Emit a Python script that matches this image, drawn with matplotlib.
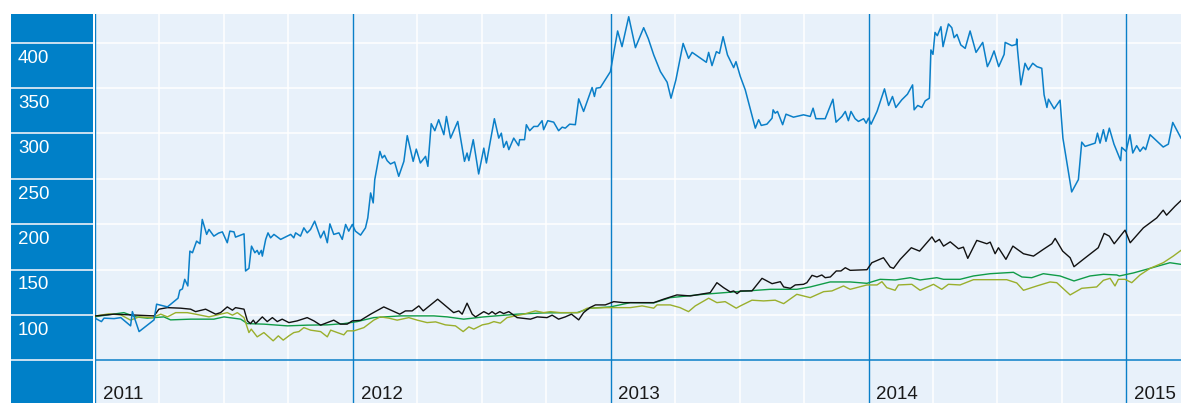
import numpy as np
import matplotlib
matplotlib.use("Agg")
import matplotlib.pyplot as plt

plt.rcParams['font.family'] = ['Liberation Sans', 'DejaVu Sans']

# values; x is given in decimal years
blue_year = [2011.003, 2011.025, 2011.035, 2011.074, 2011.100, 2011.138, 2011.145, 2011.171,
             2011.229, 2011.239, 2011.281, 2011.322, 2011.329, 2011.339, 2011.348, 2011.360,
             2011.368, 2011.378, 2011.394, 2011.407, 2011.416, 2011.433, 2011.442, 2011.461,
             2011.479, 2011.494, 2011.513, 2011.523, 2011.539, 2011.545, 2011.578, 2011.584,
             2011.597, 2011.607, 2011.620, 2011.629, 2011.636, 2011.645, 2011.649, 2011.662,
             2011.671, 2011.681, 2011.694, 2011.720, 2011.759, 2011.771, 2011.778, 2011.797,
             2011.810, 2011.823, 2011.836, 2011.852, 2011.875, 2011.888, 2011.901, 2011.911,
             2011.926, 2011.946, 2011.959, 2011.972, 2011.984, 2011.998, 2012.010, 2012.030,
             2012.049, 2012.058, 2012.069, 2012.079, 2012.085, 2012.105, 2012.114, 2012.123,
             2012.133, 2012.146, 2012.162, 2012.178, 2012.198, 2012.211, 2012.234, 2012.246,
             2012.262, 2012.282, 2012.291, 2012.304, 2012.318, 2012.333, 2012.353, 2012.363,
             2012.379, 2012.407, 2012.433, 2012.443, 2012.450, 2012.467, 2012.488, 2012.508,
             2012.518, 2012.549, 2012.566, 2012.576, 2012.585, 2012.596, 2012.605, 2012.624,
             2012.643, 2012.647, 2012.666, 2012.673, 2012.686, 2012.702, 2012.717, 2012.734,
             2012.740, 2012.756, 2012.779, 2012.798, 2012.812, 2012.824, 2012.841, 2012.863,
             2012.876, 2012.895, 2012.928, 2012.937, 2012.944, 2012.960, 2012.999, 2013.027,
             2013.044, 2013.070, 2013.096, 2013.128, 2013.146, 2013.167, 2013.193, 2013.219,
             2013.234, 2013.253, 2013.281, 2013.302, 2013.316, 2013.371, 2013.380, 2013.393,
             2013.410, 2013.422, 2013.436, 2013.453, 2013.477, 2013.486, 2013.503, 2013.522,
             2013.561, 2013.574, 2013.584, 2013.606, 2013.626, 2013.630, 2013.638, 2013.647,
             2013.667, 2013.680, 2013.709, 2013.748, 2013.774, 2013.785, 2013.796, 2013.832,
             2013.862, 2013.874, 2013.897, 2013.910, 2013.922, 2013.932, 2013.948, 2013.961,
             2013.981, 2013.991, 2014.000, 2014.010, 2014.033, 2014.062, 2014.078, 2014.093,
             2014.106, 2014.129, 2014.151, 2014.171, 2014.177, 2014.191, 2014.207, 2014.220,
             2014.236, 2014.242, 2014.250, 2014.258, 2014.267, 2014.281, 2014.289, 2014.310,
             2014.323, 2014.332, 2014.343, 2014.358, 2014.375, 2014.394, 2014.417, 2014.443,
             2014.461, 2014.472, 2014.487, 2014.505, 2014.526, 2014.530, 2014.556, 2014.573,
             2014.575, 2014.578, 2014.591, 2014.607, 2014.620, 2014.637, 2014.653, 2014.672,
             2014.681, 2014.692, 2014.698, 2014.720, 2014.743, 2014.754, 2014.788, 2014.814,
             2014.827, 2014.840, 2014.879, 2014.888, 2014.898, 2014.911, 2014.921, 2014.934,
             2014.952, 2014.978, 2014.982, 2014.999, 2015.014, 2015.025, 2015.040, 2015.053,
             2015.066, 2015.075, 2015.092, 2015.143, 2015.163, 2015.180, 2015.212]
blue_val = [95.9, 92.6, 96.4, 95.9, 97.0, 87.9, 103.6, 81.6,
            94.5, 111.8, 108.8, 118.4, 127.1, 128.6, 139.2, 131.9,
            170.3, 168.5, 181.3, 178.4, 205.2, 188.7, 194.2, 186.8,
            190.1, 191.5, 179.5, 192.3, 191.5, 185.7, 189.3, 148.4,
            151.3, 175.8, 168.5, 171.1, 166.7, 171.1, 164.8, 183.2,
            190.4, 184.9, 188.7, 183.2, 188.7, 184.9, 190.4, 186.8,
            195.9, 190.4, 194.2, 203.3, 184.9, 192.3, 179.5, 200.3,
            188.7, 190.4, 183.2, 199.7, 192.3, 199.7, 192.3, 187.9,
            195.9, 206.9, 234.4, 223.4, 249.1, 280.2, 272.9, 275.8,
            270.0, 266.3, 268.5, 252.7, 269.2, 297.5, 269.2, 282.7,
            267.4, 274.7, 263.7, 310.7, 303.0, 315.1, 298.6, 318.7,
            294.8, 313.2, 269.2, 278.4, 270.0, 293.1, 255.3, 283.8,
            267.4, 316.2, 294.8, 300.3, 284.6, 291.2, 282.1, 294.8,
            286.5, 293.1, 293.1, 309.6, 303.0, 307.7, 307.7, 314.0,
            304.1, 314.0, 312.4, 303.0, 306.9, 305.8, 310.2, 309.6,
            338.1, 324.2, 350.6, 340.7, 349.8, 350.6, 368.1, 412.9,
            395.6, 428.6, 394.5, 416.5, 404.4, 386.5, 368.1, 356.4,
            338.8, 359.0, 399.2, 382.7, 389.3, 378.4, 389.3, 374.7,
            390.1, 388.2, 406.6, 386.5, 372.5, 379.1, 362.6, 348.0,
            305.8, 315.1, 308.8, 310.2, 316.8, 326.0, 322.3, 324.2,
            309.6, 321.2, 317.9, 320.5, 318.7, 327.8, 316.2, 316.2,
            337.7, 312.4, 318.7, 324.2, 314.0, 324.2, 316.2, 313.2,
            316.2, 311.3, 316.8, 310.2, 324.2, 349.1, 330.8, 340.7,
            328.6, 337.0, 343.2, 353.5, 326.0, 330.8, 328.6, 335.9,
            338.8, 392.0, 387.1, 411.3, 407.7, 417.6, 395.6, 420.6,
            416.5, 405.5, 409.1, 397.5, 393.7, 412.9, 389.3, 400.3,
            373.6, 379.9, 390.9, 373.6, 387.1, 400.3, 396.7, 398.1,
            404.1, 392.0, 353.5, 377.3, 370.0, 377.3, 373.6, 371.8,
            342.5, 328.6, 337.7, 327.1, 336.6, 294.8, 235.5, 249.1,
            290.4, 285.7, 289.3, 300.3, 289.3, 304.1, 291.2, 305.8,
            288.2, 270.0, 284.6, 280.2, 298.6, 278.4, 286.5, 280.2,
            285.0, 282.1, 298.6, 285.0, 288.2, 312.1, 294.8]

black_year = [2011.003, 2011.074, 2011.138, 2011.229, 2011.248, 2011.281, 2011.332, 2011.371,
              2011.390, 2011.429, 2011.468, 2011.487, 2011.513, 2011.533, 2011.545, 2011.578,
              2011.591, 2011.603, 2011.614, 2011.623, 2011.649, 2011.668, 2011.688, 2011.707,
              2011.726, 2011.752, 2011.784, 2011.823, 2011.849, 2011.875, 2011.901, 2011.926,
              2011.952, 2011.978, 2011.998, 2012.030, 2012.069, 2012.120, 2012.182, 2012.204,
              2012.230, 2012.256, 2012.273, 2012.329, 2012.391, 2012.411, 2012.424, 2012.443,
              2012.463, 2012.476, 2012.508, 2012.527, 2012.540, 2012.553, 2012.570, 2012.585,
              2012.605, 2012.637, 2012.689, 2012.715, 2012.753, 2012.773, 2012.798, 2012.824,
              2012.848, 2012.876, 2012.895, 2012.919, 2012.941, 2012.979, 2013.012, 2013.050,
              2013.115, 2013.167, 2013.205, 2013.257, 2013.309, 2013.348, 2013.386, 2013.412,
              2013.438, 2013.464, 2013.477, 2013.490, 2013.503, 2013.548, 2013.587, 2013.626,
              2013.658, 2013.671, 2013.697, 2013.716, 2013.748, 2013.761, 2013.781, 2013.800,
              2013.819, 2013.832, 2013.852, 2013.875, 2013.893, 2013.910, 2013.929, 2013.994,
              2014.013, 2014.058, 2014.084, 2014.097, 2014.123, 2014.166, 2014.198, 2014.246,
              2014.259, 2014.275, 2014.291, 2014.317, 2014.349, 2014.368, 2014.385, 2014.420,
              2014.459, 2014.472, 2014.491, 2014.504, 2014.533, 2014.560, 2014.601, 2014.640,
              2014.678, 2014.711, 2014.724, 2014.753, 2014.782, 2014.797, 2014.833, 2014.891,
              2014.914, 2014.934, 2014.953, 2014.995, 2015.015, 2015.066, 2015.118, 2015.143,
              2015.156, 2015.189, 2015.212]
black_val = [98.9, 100.8, 100.0, 98.9, 106.3, 108.0, 107.4, 106.3,
             103.6, 106.3, 100.8, 102.5, 108.8, 105.2, 108.0, 106.3,
             93.4, 90.4, 94.2, 90.4, 97.8, 92.6, 97.0, 92.6,
             95.3, 91.5, 93.4, 97.0, 93.4, 88.7, 91.5, 94.2,
             89.8, 89.8, 93.4, 94.0, 100.8, 108.8, 100.8, 104.4,
             104.4, 109.9, 104.4, 117.3, 102.5, 104.4, 100.8, 112.9,
             100.8, 97.8, 103.6, 100.8, 103.6, 100.8, 103.6, 101.4,
             103.6, 97.0, 95.3, 97.8, 97.0, 99.7, 95.3, 97.8,
             100.8, 94.5, 102.5, 108.0, 111.0, 111.0, 114.6, 113.5,
             113.5, 113.5, 117.3, 122.0, 120.9, 122.7, 124.5, 135.5,
             130.0, 125.3, 126.4, 123.4, 126.4, 126.4, 140.3, 134.4,
             136.6, 130.8, 129.3, 133.0, 133.7, 135.5, 143.6, 141.8,
             144.0, 141.0, 141.8, 148.4, 148.4, 152.0, 149.1, 149.8,
             157.5, 163.0, 152.7, 151.3, 161.2, 174.0, 170.3, 186.0,
             180.2, 183.2, 175.8, 180.5, 172.9, 174.7, 162.3, 182.1,
             178.4, 180.2, 167.4, 174.0, 161.2, 175.8, 167.4, 164.8,
             172.2, 178.4, 184.3, 170.3, 163.0, 153.1, 161.2, 174.0,
             189.8, 186.8, 178.4, 193.4, 179.5, 195.9, 206.9, 215.4,
             209.9, 219.8, 226.0]

green_year = [2011.003, 2011.112, 2011.158, 2011.203, 2011.267, 2011.293, 2011.371, 2011.461,
              2011.500, 2011.565, 2011.591, 2011.655, 2011.746, 2011.823, 2011.901, 2011.965,
              2012.017, 2012.081, 2012.185, 2012.314, 2012.366, 2012.430, 2012.508, 2012.637,
              2012.740, 2012.870, 2012.921, 2012.999, 2013.076, 2013.167, 2013.231, 2013.360,
              2013.490, 2013.619, 2013.722, 2013.774, 2013.851, 2013.929, 2013.994, 2014.045,
              2014.104, 2014.162, 2014.200, 2014.265, 2014.291, 2014.355, 2014.407, 2014.472,
              2014.562, 2014.595, 2014.633, 2014.678, 2014.743, 2014.797, 2014.859, 2014.911,
              2014.963, 2014.973, 2015.027, 2015.092, 2015.169, 2015.212]
green_val = [98.1, 102.5, 97.8, 96.4, 97.8, 94.5, 95.3, 95.3,
             97.8, 95.3, 90.4, 89.8, 87.9, 88.7, 89.0, 90.4,
             92.6, 97.0, 98.9, 98.9, 97.8, 95.3, 97.8, 100.8,
             102.2, 102.5, 107.4, 108.8, 113.5, 113.2, 119.0, 122.7,
             125.6, 128.2, 128.2, 130.8, 136.3, 136.3, 134.8, 139.2,
             138.5, 141.0, 138.5, 141.0, 139.2, 139.2, 142.9, 145.4,
             146.9, 141.8, 141.0, 145.4, 142.9, 137.4, 142.9, 144.7,
             144.0, 142.9, 146.2, 151.3, 157.5, 155.7]

olive_year = [2011.003, 2011.053, 2011.100, 2011.138, 2011.171, 2011.222, 2011.255, 2011.281,
              2011.313, 2011.358, 2011.390, 2011.442, 2011.487, 2011.513, 2011.533, 2011.552,
              2011.578, 2011.597, 2011.606, 2011.629, 2011.655, 2011.691, 2011.711, 2011.730,
              2011.752, 2011.771, 2011.791, 2011.810, 2011.836, 2011.875, 2011.901, 2011.914,
              2011.940, 2011.965, 2011.978, 2012.004, 2012.043, 2012.081, 2012.107, 2012.140,
              2012.172, 2012.217, 2012.250, 2012.288, 2012.321, 2012.359, 2012.398, 2012.428,
              2012.450, 2012.469, 2012.502, 2012.527, 2012.547, 2012.572, 2012.598, 2012.663,
              2012.708, 2012.740, 2012.766, 2012.805, 2012.876, 2012.909, 2012.986, 2013.076,
              2013.122, 2013.167, 2013.180, 2013.231, 2013.269, 2013.302, 2013.328, 2013.380,
              2013.412, 2013.444, 2013.487, 2013.503, 2013.548, 2013.593, 2013.638, 2013.671,
              2013.722, 2013.774, 2013.826, 2013.858, 2013.903, 2013.921, 2013.929, 2013.994,
              2014.033, 2014.052, 2014.071, 2014.103, 2014.116, 2014.168, 2014.200, 2014.252,
              2014.284, 2014.310, 2014.355, 2014.407, 2014.536, 2014.575, 2014.601, 2014.653,
              2014.704, 2014.730, 2014.782, 2014.827, 2014.885, 2014.911, 2014.937, 2014.956,
              2014.969, 2014.995, 2015.021, 2015.053, 2015.092, 2015.143, 2015.182, 2015.212]
olive_val = [98.9, 101.1, 100.0, 94.2, 97.8, 97.0, 100.8, 97.8,
             102.5, 102.5, 100.8, 97.8, 100.8, 102.5, 99.7, 102.5,
             97.0, 80.5, 84.3, 75.8, 80.5, 71.4, 76.9, 72.2,
             76.9, 80.5, 81.6, 86.0, 83.2, 81.6, 75.8, 83.2,
             80.5, 78.0, 82.4, 82.4, 86.0, 94.2, 97.8, 96.4,
             94.2, 97.0, 94.2, 91.5, 92.3, 89.0, 87.9, 81.6,
             86.8, 84.3, 89.0, 90.4, 92.6, 90.9, 97.0, 100.8,
             104.4, 102.5, 103.6, 102.5, 102.5, 107.4, 108.0, 108.0,
             109.9, 107.4, 111.0, 111.0, 108.0, 103.6, 109.9, 118.4,
             113.5, 114.6, 107.4, 109.9, 116.2, 115.4, 116.2, 112.4,
             122.7, 119.0, 125.6, 126.4, 131.9, 129.3, 128.2, 133.0,
             133.0, 136.6, 130.0, 127.1, 133.0, 133.7, 127.1, 133.7,
             128.2, 133.7, 133.0, 138.8, 138.8, 135.2, 127.1, 131.9,
             136.3, 135.5, 122.0, 129.3, 130.8, 138.1, 140.3, 131.9,
             139.2, 139.2, 135.5, 144.0, 151.3, 157.5, 164.8, 171.1]

years = [2011, 2012, 2013, 2014, 2015]
y_ticks = [100, 150, 200, 250, 300, 350, 400]

panel_blue = '#0080c8'
line_blue = '#0a7fc8'
bg = '#e8f1fa'

W, H = 1181, 403
fig = plt.figure(figsize=(W / 100, H / 100), dpi=100)

top = 14
ylim = (2.9, 431.6)
ax = fig.add_axes([95 / W, 0, (W - 95) / W, (H - top) / H])
ax.set_facecolor(bg)
ax.set_xlim(2011.0, 2015.212)
ax.set_ylim(*ylim)

# grid: quarters white, years blue
for y in years:
    for q in (0.25, 0.5, 0.75):
        ax.axvline(y + q, color='white', lw=1.1, zorder=1)
for v in y_ticks:
    ax.axhline(v, color='white', lw=1.1, zorder=1)
for y in years:
    ax.axvline(y, color=line_blue, lw=1.0, zorder=2)
ax.axhline(50, color=line_blue, lw=1.1, zorder=2)

ax.plot(green_year, green_val, color='#109c48', lw=1.0, zorder=3)
ax.plot(olive_year, olive_val, color='#9aaf2c', lw=1.0, zorder=4)
ax.plot(black_year, black_val, color='#111111', lw=1.0, zorder=5)
ax.plot(blue_year, blue_val, color=line_blue, lw=1.1, zorder=6)

for y in years:
    ax.text(y + 0.03, 12.3, str(y), fontsize=13.5, color='#1a1a1a', va='center', ha='left')

ax.set_xticks([])
ax.set_yticks([])
for s in ax.spines.values():
    s.set_visible(False)

# left label panel
lp = fig.add_axes([10.7 / W, 0, (92.7 - 10.7) / W, (H - top) / H])
lp.set_facecolor(panel_blue)
lp.set_xlim(0, 1)
lp.set_ylim(*ylim)
for v in y_ticks + [50]:
    lp.axhline(v, color='#dbe8f4', lw=1.3)
for v in y_ticks:
    lp.text(0.09, v - 17, str(v), fontsize=13.5, color='white', va='center', ha='left')
lp.set_xticks([])
lp.set_yticks([])
for s in lp.spines.values():
    s.set_visible(False)

fig.savefig('out.png', dpi=100)
